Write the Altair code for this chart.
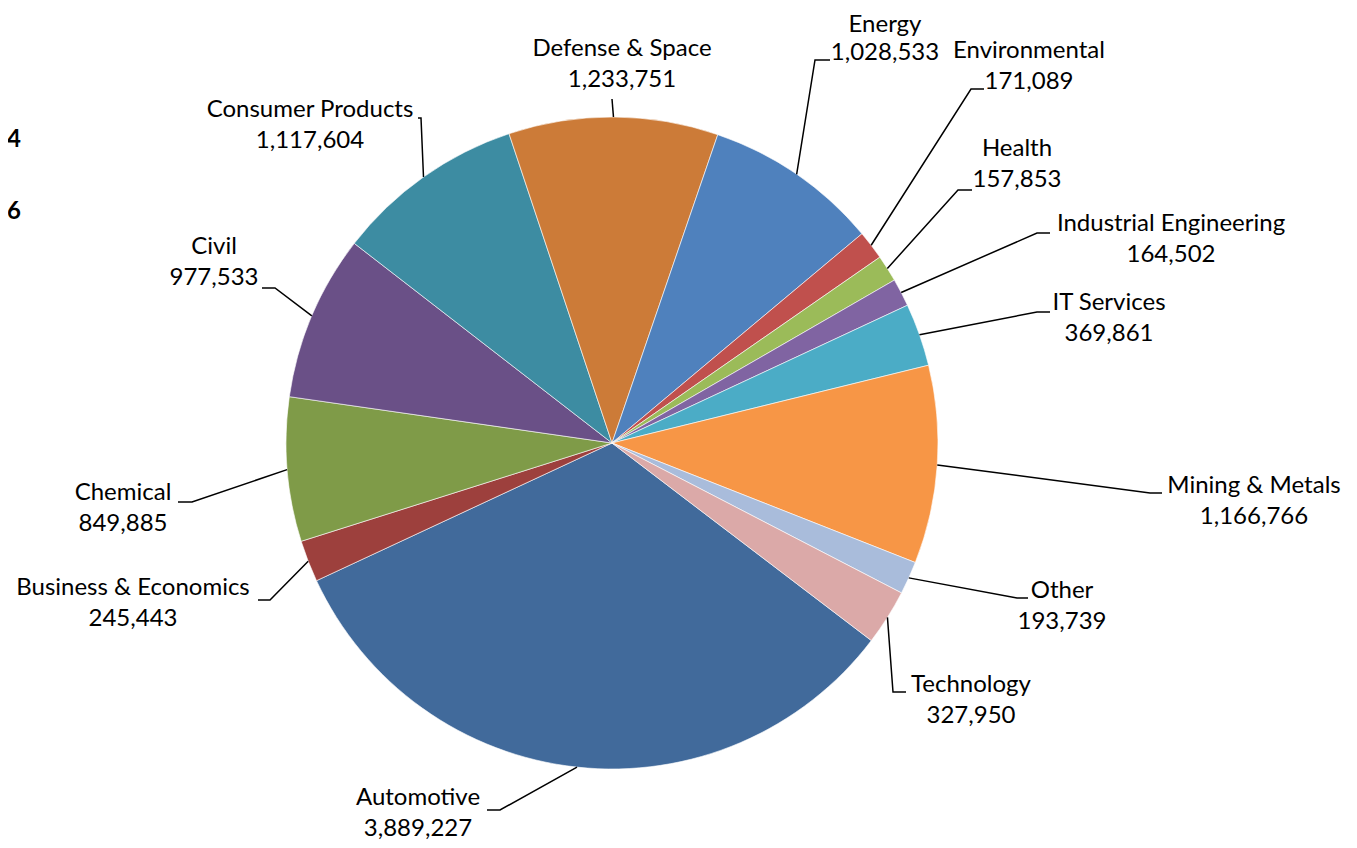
import math
import altair as alt
import pandas as pd

# ---- data ----
categories = ["Automotive", "Business & Economics", "Chemical", "Civil", "Consumer Products",
              "Defense & Space", "Energy", "Environmental", "Health", "Industrial Engineering",
              "IT Services", "Mining & Metals", "Other", "Technology"]
values = [3889227, 245443, 849885, 977533, 1117604, 1233751, 1028533, 171089, 157853,
          164502, 369861, 1166766, 193739, 327950]
colors = ["#416A9B", "#9D403D", "#7F9B48", "#6A5087", "#3D8CA2", "#CC7B38", "#4F81BD",
          "#C0504D", "#9BBB59", "#8064A2", "#4BACC6", "#F79646", "#A9BCDB", "#DBA9A8"]
edge_texts = ["4", "6"]

# ---- layout (page pixel frame) ----
W, H = 1341, 832
CX, CY, R = 612, 443, 326
START_DEG = 127.3
FONT = "Lato"
FS = 24

# label block centre (x, y of first line), gap to second line, leader elbow/end points
label_pos = {
    "Automotive": (418, 798, 31, (500, 810), (487, 810)),
    "Business & Economics": (133, 588, 31, (270, 600), (258, 600)),
    "Chemical": (123, 493, 31, (192, 502), (178, 502)),
    "Civil": (214, 247, 31, (275, 288), (262, 288)),
    "Consumer Products": (310, 110, 31, (421, 118), (418, 118)),
    "Defense & Space": (622, 49, 31, (612, 99), (612, 99)),
    "Energy": (885, 25, 28, (815, 60), (830, 60)),
    "Environmental": (1029, 51, 31, (971, 89), (984, 89)),
    "Health": (1017, 149, 31, (958, 190), (972, 190)),
    "Industrial Engineering": (1171, 224, 31, (1037, 233), (1050, 233)),
    "IT Services": (1109, 303, 31, (1037, 312), (1050, 312)),
    "Mining & Metals": (1254, 486, 31, (1150, 493), (1162, 493)),
    "Other": (1062, 591, 31, (1017, 598), (1028, 598)),
    "Technology": (971, 685, 31, (893, 692), (906, 692)),
}

total = sum(values)
pie_df = pd.DataFrame({"category": categories, "value": values, "idx": list(range(len(values)))})

rows_line, rows_text = [], []
cum = 0
for cat, v in zip(categories, values):
    mid = math.radians(START_DEG + (cum + v / 2) / total * 360)
    cum += v
    sx, sy = CX + R * math.sin(mid), CY - R * math.cos(mid)
    lx, ly, gap, elbow, end = label_pos[cat]
    for s, (px, py) in enumerate([(sx, sy), elbow, end]):
        rows_line.append({"category": cat, "seq": s, "x": px, "y": py})
    rows_text.append({"x": lx, "y": ly, "t": cat})
    rows_text.append({"x": lx, "y": ly + gap, "t": f"{v:,}"})

line_df = pd.DataFrame(rows_line)
text_df = pd.DataFrame(rows_text)
edge_df = pd.DataFrame({"x": [21, 21], "y": [140, 212], "t": edge_texts})

xs = alt.Scale(domain=[8, 8 + W], range=[0, W])
ys = alt.Scale(domain=[8 + H, 8])

a0 = math.radians(START_DEG)
pie = alt.Chart(pie_df).mark_arc(outerRadius=R, stroke="#ffffff", strokeWidth=0.6).encode(
    theta=alt.Theta("value:Q", stack=True, scale=alt.Scale(range=[a0, a0 + 2 * math.pi])),
    color=alt.Color("category:N", scale=alt.Scale(domain=categories, range=colors), legend=None),
    order=alt.Order("idx:Q"),
    x=alt.value(CX - 8),
    y=alt.value(CY - 8),
)

leaders = alt.Chart(line_df).mark_line(color="#000000", strokeWidth=1.5).encode(
    x=alt.X("x:Q", scale=xs, axis=None),
    y=alt.Y("y:Q", scale=ys, axis=None),
    detail="category:N",
    order="seq:Q",
)

labels = alt.Chart(text_df).mark_text(font=FONT, fontSize=FS, color="#000000",
                                      align="center", baseline="middle").encode(
    x=alt.X("x:Q", scale=xs, axis=None),
    y=alt.Y("y:Q", scale=ys, axis=None),
    text="t:N",
)

edge = alt.Chart(edge_df).mark_text(font=FONT, fontSize=FS, fontWeight="bold", color="#000000",
                                    align="right", baseline="middle").encode(
    x=alt.X("x:Q", scale=xs, axis=None),
    y=alt.Y("y:Q", scale=ys, axis=None),
    text="t:N",
)

chart = alt.layer(pie, leaders, labels, edge).resolve_scale(color="independent").properties(
    width=W, height=H, autosize=alt.AutoSizeParams(type="none"), padding=0,
    background="#ffffff",
).configure_view(stroke=None)

chart.save("out.html", embed_options={"renderer": "svg", "actions": False})
